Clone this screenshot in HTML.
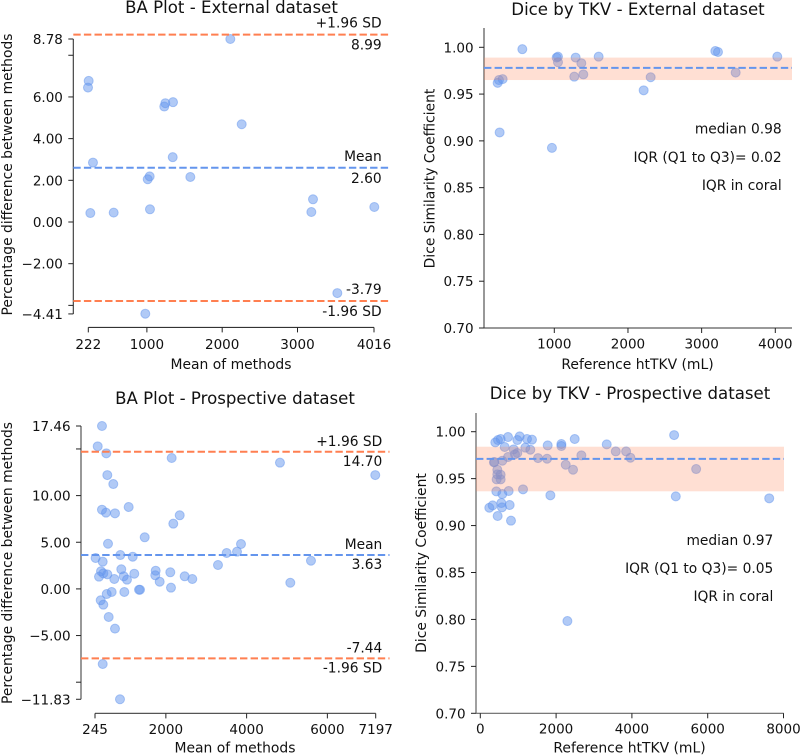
<!DOCTYPE html>
<html lang="en">
<head>
<meta charset="utf-8">
<title>BA plots and Dice by TKV</title>
<style>
html,body{margin:0;padding:0;background:#fff;}
svg{display:block;font-family:"DejaVu Sans","Liberation Sans",sans-serif;fill:#111;}
.title{font-size:16.6px;text-anchor:middle;}
.lab{font-size:13.9px;text-anchor:middle;}
.ann{font-size:13.8px;text-anchor:end;}
</style>
</head>
<body>
<svg id="figure" width="800" height="755" viewBox="0 0 800 755" xmlns="http://www.w3.org/2000/svg">
  <g id="panel1">
    <text class="title" x="231.5" y="13">BA Plot - External dataset</text>
    <text class="lab" x="231" y="369">Mean of methods</text>
    <text class="lab" transform="translate(12,174.5) rotate(-90)">Percentage difference between methods</text>
  </g>
  <g id="panel2">
    <text class="title" x="638" y="15">Dice by TKV - External dataset</text>
    <text class="lab" x="637.5" y="369">Reference htTKV (mL)</text>
    <text class="lab" transform="translate(434.5,178.5) rotate(-90)">Dice Similarity Coefficient</text>
    <text class="ann" x="781.7" y="133.5">median 0.98</text>
    <text class="ann" x="781.7" y="162">IQR (Q1 to Q3)= 0.02</text>
    <text class="ann" x="781.7" y="190">IQR in coral</text>
  </g>
  <g id="panel3">
    <text class="title" x="235" y="404">BA Plot - Prospective dataset</text>
    <text class="lab" x="235" y="752.7">Mean of methods</text>
    <text class="lab" transform="translate(12,563) rotate(-90)">Percentage difference between methods</text>
  </g>
  <g id="panel4">
    <text class="title" x="630" y="399">Dice by TKV - Prospective dataset</text>
    <text class="lab" x="629.5" y="752.7">Reference htTKV (mL)</text>
    <text class="lab" transform="translate(426,563) rotate(-90)">Dice Similarity Coefficient</text>
    <text class="ann" x="773.3" y="545">median 0.97</text>
    <text class="ann" x="773.3" y="573">IQR (Q1 to Q3)= 0.05</text>
    <text class="ann" x="773.3" y="601">IQR in coral</text>
  </g>
</svg>
<script>
// ---------- BA Plot - External dataset ----------
const baExtMean = [2108,227,218,1245,1231,1347,2259,1343,284,1037,1011,1577,249,559,1041,3206,3184,4020,3529,979];
const baExtDiff = [8.78,6.77,6.45,5.70,5.54,5.75,4.69,3.11,2.85,2.19,2.05,2.16,0.43,0.45,0.61,1.09,0.48,0.72,-3.41,-4.40];
const baExtLimits = [8.99,2.60,-3.79];
const baExtXTicks = [222,1000,2000,3000,4016];
const baExtYTicks = [8.78,8,6,4,2,0,-2,-4,-4.41];
const baExtYLabels = ['8.78','','6.00','4.00','2.00','0.00','\u22122.00','','\u22124.41'];

// ---------- Dice by TKV - External dataset ----------
const diceExtTkv = [566,231,249,299,258,968,1032,1050,1050,1290,1367,1271,1394,1602,2308,2213,3186,3222,3462,4027];
const diceExtDice = [0.998,0.962,0.965,0.966,0.909,0.8925,0.989,0.990,0.984,0.989,0.983,0.9686,0.971,0.990,0.968,0.954,0.996,0.995,0.973,0.990];
const diceExtMedian = [0.978];
const diceExtBand = [0.965,0.989];
const diceExtXTicks = [1000,2000,3000,4000];
const diceExtYTicks = [0.70,0.75,0.80,0.85,0.90,0.95,1.00];

// ---------- BA Plot - Prospective dataset ----------
const baProMean = [418,312,525,2144,550,698,418,517,740,1079,2343,2184,1476,567,260,436,872,1179,4826,7186,3291,3506,3762,3861,5594,5082,394,344,451,550,723,896,956,1037,1218,1748,1738,1847,2110,2127,2466,2655,658,535,971,1335,1360,386,451,584,740,436,864];
const baProDiff = [17.46,15.28,14.53,14.03,12.2,11.24,8.49,8.17,8.10,8.78,7.89,6.99,5.53,4.84,3.31,2.92,3.63,3.45,13.53,12.2,2.56,3.85,3.99,4.81,3.02,0.66,1.89,1.31,1.67,1.56,1.06,2.10,1.35,0.99,1.63,1.95,1.46,0.77,1.78,0.13,1.35,1.06,-0.33,-0.55,-0.33,-0.09,-0.09,-1.22,-1.69,-3.01,-4.26,-8.05,-11.83];
const baProLimits = [14.70,3.63,-7.44];
const baProXTicks = [245,2000,4000,6000,7197];
const baProYTicks = [17.46,15,10,5,0,-5,-10,-11.83];
const baProYLabels = ['17.46','','10.00','5.00','0.00','\u22125.00','','\u221211.83'];

// ---------- Dice by TKV - Prospective dataset ----------
const dicePro1Tkv = [396,467,537,731,1039,977,1232,1364,643,880,1188,1320,977,915,731,581,361,370,1523,1761,1778,2139,2139,2491,2667,2254,2447,3336,3574,3847,3961,5695,5114,5158,7623,2298,449,537,449,537,431,423,581,748,1127,1849,238,326,555,572,775,458,810];
const dicePro1Dice = [0.9886,0.9911,0.9922,0.9943,0.9950,0.9911,0.9922,0.9915,0.9837,0.9812,0.9830,0.9808,0.9773,0.9759,0.9730,0.9691,0.9673,0.9677,0.9719,0.9712,0.9854,0.9869,0.9847,0.9922,0.9748,0.9648,0.9595,0.9865,0.9790,0.9790,0.9723,0.9602,0.9964,0.9311,0.9290,0.7983,0.9595,0.9542,0.9545,0.9492,0.9492,0.9364,0.9336,0.9368,0.9386,0.9322,0.9190,0.9215,0.9240,0.9194,0.9219,0.9102,0.9052];
const diceProMedian = [0.971];
const diceProBand = [0.9365,0.984];
const diceProXTicks = [0,2000,4000,6000,8000];
const diceProYTicks = [0.70,0.75,0.80,0.85,0.90,0.95,1.00];

const NS = 'http://www.w3.org/2000/svg';
const BLUE = '#6495ED';
const CORAL = '#FF7F50';

function linear(d0, d1, p0, p1) {
  return function (v) { return p0 + (v - d0) * (p1 - p0) / (d1 - d0); };
}
function make(parent, tag, props) {
  const el = document.createElementNS(NS, tag);
  for (const k in props) el.setAttribute(k, props[k]);
  parent.appendChild(el);
  return el;
}
function drawPoints(g, xs, ys, X, Y) {
  xs.forEach(function (v, i) {
    const c = make(g, 'circle', {cx: X(v), cy: Y(ys[i]), r: 4.5, fill: BLUE, 'fill-opacity': 0.5, stroke: BLUE, 'stroke-opacity': 0.5, 'stroke-width': 1});
    
    
  });
}
function dashed(g, x0, x1, y, colour) {
  const l = make(g, 'line', {x1: x0, x2: x1, y1: y, y2: y, stroke: colour, 'stroke-width': 2, 'stroke-dasharray': '7.4 3.2'});
  
  
}
function drawAxes(g, o) {
  const left = make(g, 'line', {x1: o.spineX, x2: o.spineX, y1: o.yTop, y2: o.yBottom, stroke: o.leftColour, 'stroke-width': o.leftWidth});
  
  
  const bottom = make(g, 'line', {x1: o.xLeft, x2: o.xRight, y1: o.spineY, y2: o.spineY, stroke: o.bottomColour, 'stroke-width': o.bottomWidth});
  
  
  o.yTicks.forEach(function (v, i) {
    const y = o.Y(v);
    const t = make(g, 'line', {x1: o.spineX - 5, x2: o.spineX, y1: y, y2: y, stroke: '#222', 'stroke-width': 1});
    
    
    const s = o.yLabels[i];
    if (s) {
      const tx = make(g, 'text', {x: o.spineX - 10.4, y: y + 5, 'font-size': 13.5, 'text-anchor': 'end'});
      tx.textContent = s;
      
      
    }
  });
  o.xTicks.forEach(function (v) {
    const x = o.X(v);
    const t = make(g, 'line', {x1: x, x2: x, y1: o.spineY, y2: o.spineY + 5, stroke: '#222', 'stroke-width': 1});
    
    
    const tx = make(g, 'text', {x: x, y: o.xLabelY, 'font-size': 13.5, 'text-anchor': 'middle'});
    tx.textContent = String(v);
    
    
  });
}
function drawBA(g, o) {
  drawAxes(g, o);
  drawPoints(g, o.xs, o.ys, o.X, o.Y);
  const colours = [CORAL, BLUE, CORAL];
  const upperNames = ['+1.96 SD', 'Mean', ''];
  const lowerNames = ['', '', '-1.96 SD'];
  o.limits.forEach(function (v, i) {
    const y = o.Y(v);
    dashed(g, o.spineX, o.lineEnd, y, colours[i]);
    const above = i === 2 ? v.toFixed(2) : upperNames[i];
    const below = i === 2 ? lowerNames[i] : v.toFixed(2);
    const a = make(g, 'text', {x: o.annX, y: y - o.aboveGap, 'font-size': 13.8, 'text-anchor': 'end'});
    a.textContent = above;
    
    
    const b = make(g, 'text', {x: o.annX, y: y + o.belowGap, 'font-size': 13.8, 'text-anchor': 'end'});
    b.textContent = below;
    
    
  });
}
function drawDice(g, o) {
  drawAxes(g, o);
  drawPoints(g, o.xs, o.ys, o.X, o.Y);
  const yA = o.Y(o.band[1]);
  const yB = o.Y(o.band[0]);
  const r = make(g, 'rect', {x: o.spineX, y: yA, width: o.lineEnd - o.spineX, height: yB - yA, fill: CORAL, 'fill-opacity': 0.25});
  
  
  dashed(g, o.spineX, o.lineEnd, o.Y(o.median[0]), BLUE);
}

drawBA(document.getElementById('panel1'), {
  X: linear(222, 4016, 88.3, 374), Y: linear(0, 8.78, 222, 39),
  xs: baExtMean, ys: baExtDiff, limits: baExtLimits,
  xTicks: baExtXTicks, yTicks: baExtYTicks, yLabels: baExtYLabels,
  spineX: 73.3, yTop: 39, yBottom: 314, leftColour: '#333', leftWidth: 1.1,
  spineY: 327.4, xLeft: 88.3, xRight: 374, bottomColour: '#333', bottomWidth: 1.1,
  xLabelY: 349, lineEnd: 390, annX: 381.7, aboveGap: 7, belowGap: 15
});
drawDice(document.getElementById('panel2'), {
  X: linear(1000, 4000, 554.3, 775.3), Y: linear(0.7, 1, 328, 47.3),
  xs: diceExtTkv, ys: diceExtDice, median: diceExtMedian, band: diceExtBand,
  xTicks: diceExtXTicks, yTicks: diceExtYTicks, yLabels: diceExtYTicks.map(function (v) { return v.toFixed(2); }),
  spineX: 484, yTop: 28, yBottom: 328, leftColour: '#777', leftWidth: 1.5,
  spineY: 328, xLeft: 484, xRight: 792, bottomColour: '#333', bottomWidth: 1,
  xLabelY: 348.7, lineEnd: 792
});
drawBA(document.getElementById('panel3'), {
  X: linear(245, 7197, 95, 375.7), Y: linear(0, 17.46, 588.9, 426),
  xs: baProMean, ys: baProDiff, limits: baProLimits,
  xTicks: baProXTicks, yTicks: baProYTicks, yLabels: baProYLabels,
  spineX: 81, yTop: 426, yBottom: 699.3, leftColour: '#555', leftWidth: 1.2,
  spineY: 713.4, xLeft: 95, xRight: 375.7, bottomColour: '#555', bottomWidth: 1.2,
  xLabelY: 734, lineEnd: 389.5, annX: 382.3, aboveGap: 5.8, belowGap: 14
});
drawDice(document.getElementById('panel4'), {
  X: linear(0, 8000, 480.3, 783.5), Y: linear(0.7, 1, 713.3, 431.7),
  xs: dicePro1Tkv, ys: dicePro1Dice, median: diceProMedian, band: diceProBand,
  xTicks: diceProXTicks, yTicks: diceProYTicks, yLabels: diceProYTicks.map(function (v) { return v.toFixed(2); }),
  spineX: 476, yTop: 413, yBottom: 713.3, leftColour: '#777', leftWidth: 1.4,
  spineY: 713.3, xLeft: 476, xRight: 783.7, bottomColour: '#666', bottomWidth: 1.2,
  xLabelY: 733.7, lineEnd: 784
});
</script>
</body>
</html>
